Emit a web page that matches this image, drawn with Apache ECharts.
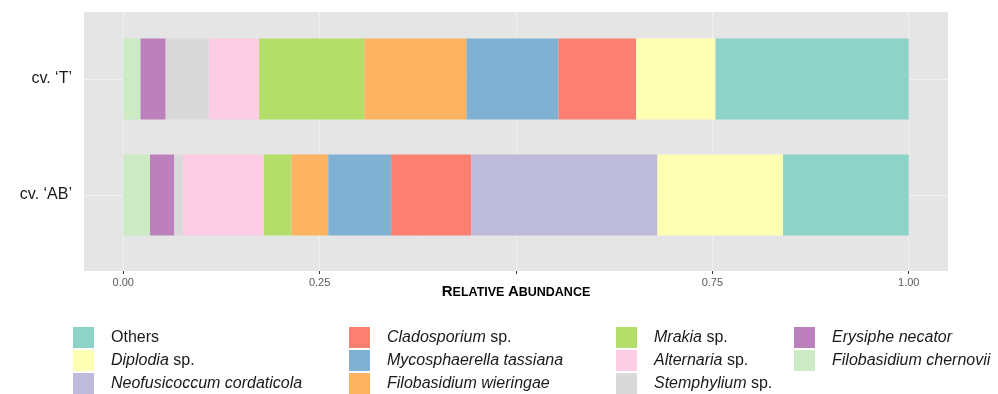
<!DOCTYPE html>
<html>
<head>
<meta charset="utf-8">
<script src="https://cdn.jsdelivr.net/npm/echarts@6/dist/echarts.min.js"></script>
<style>
  html, body { margin: 0; padding: 0; background: #ffffff; }
  #chart { width: 998px; height: 394px; }
</style>
</head>
<body>
<div id="chart"></div>
<script>
// Categories (bottom to top)
const categories = ['cv. ‘AB’', 'cv. ‘T’'];

// Series values [AB, T], stacked left to right in this order
const filobasidiumChernovii = [0.034, 0.022];
const erysipheNecator       = [0.031, 0.032];
const stemphylium           = [0.011, 0.055];
const alternaria            = [0.103, 0.064];
const mrakia                = [0.035, 0.134];
const filobasidiumWieringae = [0.047, 0.130];
const mycosphaerella        = [0.080, 0.117];
const cladosporium          = [0.102, 0.099];
const neofusicoccum         = [0.237, 0.000];
const diplodia              = [0.160, 0.101];
const others                = [0.160, 0.246];

const seriesNames = [
  'Filobasidium chernovii', 'Erysiphe necator', 'Stemphylium sp.', 'Alternaria sp.',
  'Mrakia sp.', 'Filobasidium wieringae', 'Mycosphaerella tassiana', 'Cladosporium sp.',
  'Neofusicoccum cordaticola', 'Diplodia sp.', 'Others'
];
const seriesValues = [
  filobasidiumChernovii, erysipheNecator, stemphylium, alternaria, mrakia,
  filobasidiumWieringae, mycosphaerella, cladosporium, neofusicoccum, diplodia, others
];
const seriesColors = [
  '#CCEBC5', '#BC80BD', '#D9D9D9', '#FCCDE5', '#B3DE69',
  '#FDB462', '#80B1D3', '#FB8072', '#BEBADA', '#FFFFB3', '#8DD3C7'
];

// Axis ticks
const majorTicks = [0, 0.25, 0.5, 0.75, 1.0];
const tickLabels = [0, 0.25, 0.75, 1.0];
const minorTicks = [0.125, 0.375, 0.625, 0.875];

// Legend columns
const legendCols = [
  ['Others', 'Diplodia sp.', 'Neofusicoccum cordaticola'],
  ['Cladosporium sp.', 'Mycosphaerella tassiana', 'Filobasidium wieringae'],
  ['Mrakia sp.', 'Alternaria sp.', 'Stemphylium sp.'],
  ['Erysiphe necator', 'Filobasidium chernovii']
];
const legendLefts = [73, 349, 616, 794];

const FONT = '"Liberation Sans", Arial, Helvetica, sans-serif';

function legendFmt(name) {
  if (name === 'Others') return '{n|Others}';
  if (/ sp\.$/.test(name)) return '{i|' + name.slice(0, -4) + '}{n| sp.}';
  return '{i|' + name + '}';
}

const legends = legendCols.map((cols, k) => ({
  orient: 'vertical',
  left: legendLefts[k],
  top: 327,
  padding: 0,
  itemWidth: 21,
  itemHeight: 21,
  itemGap: 2,
  icon: 'rect',
  selectedMode: false,
  data: cols,
  formatter: legendFmt,
  textStyle: {
    fontFamily: FONT,
    fontSize: 16,
    color: '#1a1a1a',
    padding: [0, 0, 0, 12],
    rich: {
      i: { fontFamily: FONT, fontSize: 16, fontStyle: 'italic', color: '#1a1a1a' },
      n: { fontFamily: FONT, fontSize: 16, color: '#1a1a1a' }
    }
  }
}));

const barSeries = seriesNames.map((name, k) => ({
  name: name,
  type: 'bar',
  stack: 'total',
  xAxisIndex: 2,
  yAxisIndex: 1,
  barWidth: 81,
  z: 3,
  itemStyle: { color: seriesColors[k] },
  emphasis: { disabled: true },
  data: seriesValues[k]
}));

const gridLineSeries = {
  name: '__grid',
  type: 'line',
  xAxisIndex: 2,
  yAxisIndex: 1,
  data: [],
  z: 1,
  silent: true,
  markLine: {
    z: 1,
    silent: true,
    symbol: ['none', 'none'],
    label: { show: false },
    lineStyle: { color: '#f0f0f0', width: 1, type: 'solid' },
    emphasis: { disabled: true },
    data: categories.map(c => ({ yAxis: c }))
  }
};

const option = {
  animation: false,
  backgroundColor: '#ffffff',
  grid: [
    { left: 84, right: 50, top: 12, height: 259, show: true, backgroundColor: '#e5e5e5', borderWidth: 0, outerBoundsMode: 'none' },
    { left: 84, right: 50, top: 21, height: 232, show: false, outerBoundsMode: 'none' }
  ],
  legend: legends,
  xAxis: [
    {
      type: 'value', gridIndex: 0, min: -0.05, max: 1.05, position: 'bottom',
      axisLine: { show: false },
      axisTick: { show: true, length: 3, lineStyle: { color: '#333333', width: 1 }, customValues: majorTicks },
      axisLabel: {
        show: true, margin: 6, fontFamily: FONT, fontSize: 11, color: '#5a5a5a',
        customValues: tickLabels,
        formatter: v => v.toFixed(2)
      },
      splitLine: { show: true, lineStyle: { color: '#f0f0f0', width: 1 } },
      name: '{b|R}{s|ELATIVE }{b|A}{s|BUNDANCE}',
      nameLocation: 'middle',
      nameGap: 13,
      nameMoveOverlap: false,
      nameTextStyle: {
        rich: {
          b: { fontFamily: FONT, fontSize: 15, fontWeight: 'bold', color: '#000000', lineHeight: 15, verticalAlign: 'bottom' },
          s: { fontFamily: FONT, fontSize: 12.5, fontWeight: 'bold', color: '#000000', lineHeight: 15, verticalAlign: 'bottom' }
        }
      }
    },
    {
      type: 'value', gridIndex: 0, min: -0.05, max: 1.05, position: 'bottom',
      axisLine: { show: false },
      axisTick: { show: false, customValues: minorTicks },
      axisLabel: { show: false },
      splitLine: { show: true, lineStyle: { color: '#e9e9e9', width: 1 } }
    },
    {
      type: 'value', gridIndex: 1, min: -0.05, max: 1.05, show: false,
      splitLine: { show: false }
    }
  ],
  yAxis: [
    { type: 'value', gridIndex: 0, show: false, splitLine: { show: false } },
    {
      type: 'category', gridIndex: 1, data: categories,
      axisLine: { show: false },
      axisTick: { show: true, alignWithLabel: true, length: 3, lineStyle: { color: '#333333', width: 1 } },
      axisLabel: { margin: 12, fontFamily: FONT, fontSize: 16, color: '#1a1a1a' },
      splitLine: { show: false }
    }
  ],
  series: [gridLineSeries].concat(barSeries)
};

const chart = echarts.init(document.getElementById('chart'), null, { renderer: 'canvas' });
chart.setOption(option);
</script>
</body>
</html>
